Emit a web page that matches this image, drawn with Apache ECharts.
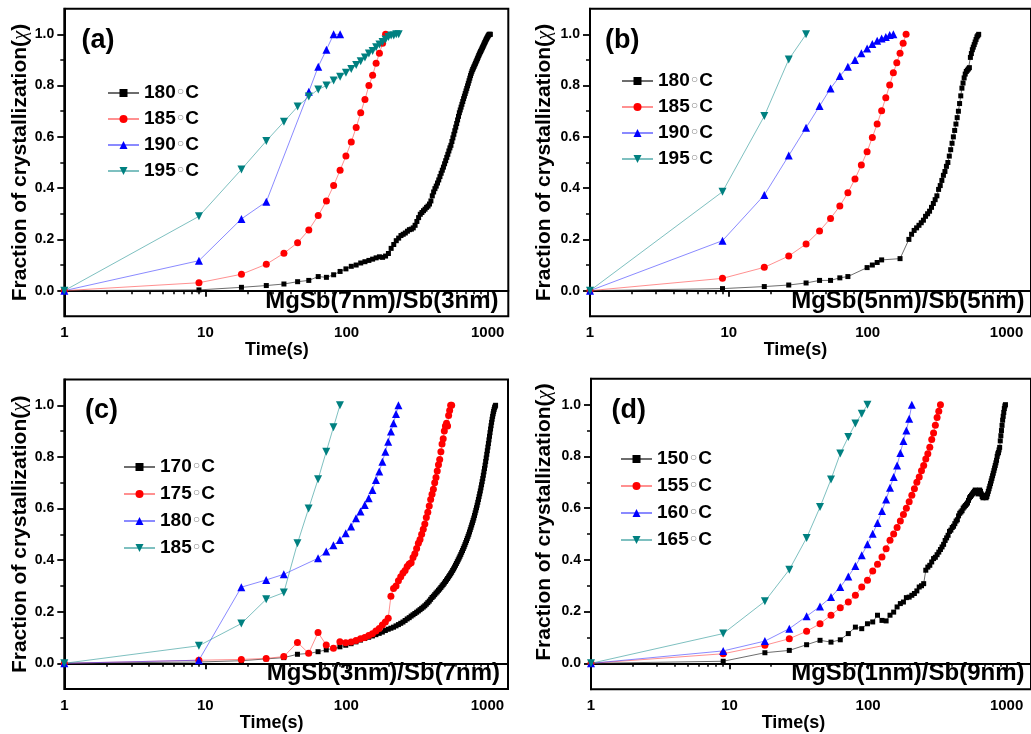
<!DOCTYPE html>
<html>
<head>
<meta charset="utf-8">
<script src="https://cdn.jsdelivr.net/npm/echarts@6/dist/echarts.min.js"></script>
<style>
  html, body { margin: 0; padding: 0; background: #fff; }
  #chart { width: 1031px; height: 734px; }
</style>
</head>
<body>
<div id="chart"></div>
<script>
// Isothermal crystallization of MgSb/Sb multilayers: fraction crystallized vs. annealing time.
// Readings were taken every 9 s; every curve starts at t = 1 s with x = 0.
const SAMPLE_STEP = 9;

// ---------- (a) MgSb(7nm)/Sb(3nm) ----------
const A_180 = [0,
  0.003,0.013,0.020,0.026,0.035,0.040,0.055,0.052,0.062,0.075,
  0.085,0.095,0.100,0.108,0.113,0.118,0.123,0.128,0.132,0.130,
  0.135,0.145,0.165,0.180,0.195,0.205,0.215,0.220,0.225,0.232,
  0.238,0.240,0.245,0.255,0.270,0.285,0.298,0.305,0.312,0.318,
  0.325,0.330,0.338,0.350,0.370,0.385,0.398,0.408,0.420,0.432,
  0.445,0.458,0.470,0.482,0.495,0.507,0.520,0.532,0.545,0.557,
  0.567,0.582,0.596,0.610,0.624,0.638,0.652,0.666,0.680,0.694,
  0.705,0.716,0.727,0.738,0.749,0.759,0.769,0.779,0.789,0.799,
  0.809,0.819,0.829,0.839,0.848,0.856,0.863,0.869,0.875,0.881,
  0.887,0.893,0.899,0.905,0.911,0.917,0.923,0.928,0.933,0.938,
  0.943,0.948,0.953,0.958,0.963,0.968,0.973,0.978,0.982,0.986,
  0.990,0.994,0.997,1.000,1.000,1.000];
const A_185 = [0,
  0.031,0.064,0.103,0.146,0.187,0.237,0.293,0.350,0.410,0.470,
  0.525,0.580,0.637,0.694,0.746,0.800,0.840,0.887,0.926,0.965,
  1.000];
const A_190_TIMES = [1, 9, 18, 27, 54, 63, 72, 81, 90];
const A_190 = [0, 0.117, 0.280, 0.347, 0.776, 0.874, 0.940, 1.000, 1.000];
const A_195 = [0,
  0.290,0.473,0.584,0.659,0.718,0.757,0.785,0.800,0.820,0.835,
  0.850,0.865,0.880,0.895,0.910,0.925,0.935,0.950,0.960,0.970,
  0.980,0.990,0.995,0.995,1.000,1.000];

// ---------- (b) MgSb(5nm)/Sb(5nm) ----------
const B_180_TIMES_EARLY = [1, 9, 18, 27, 36, 45, 54, 63, 72, 99, 108, 117, 126, 171];
const B_180_EARLY = [0, 0.008, 0.016, 0.022, 0.030, 0.040, 0.040, 0.050, 0.055, 0.090, 0.100, 0.110, 0.120, 0.125];
const B_180_LATE_START = 198;
const B_180_LATE = [
  0.200,0.220,0.235,0.245,0.255,0.265,0.275,0.290,0.300,0.310,
  0.325,0.340,0.355,0.370,0.395,0.410,0.430,0.450,0.465,0.485,
  0.500,0.525,0.550,0.575,0.600,0.625,0.650,0.675,0.700,0.730,
  0.760,0.790,0.810,0.830,0.845,0.855,0.860,0.865,0.870,0.910,
  0.925,0.940,0.950,0.960,0.970,0.980,0.990,0.995,1.000];
const B_185 = [0,
  0.048,0.091,0.135,0.182,0.233,0.282,0.330,0.382,0.436,0.490,
  0.542,0.598,0.650,0.702,0.753,0.802,0.850,0.889,0.926,0.965,
  1.000];
const B_190 = [0,
  0.195,0.373,0.527,0.636,0.720,0.789,0.837,0.874,0.900,0.926,
  0.945,0.962,0.975,0.984,0.990,0.997,1.000];
const B_195 = [0, 0.386, 0.681, 0.902, 1.000];

// ---------- (c) MgSb(3nm)/Sb(7nm) ----------
const C_170 = [0,
  0.005,0.010,0.017,0.022,0.035,0.038,0.045,0.052,0.058,0.064,
  0.070,0.076,0.083,0.090,0.096,0.101,0.106,0.111,0.116,0.121,
  0.127,0.132,0.136,0.140,0.145,0.150,0.155,0.160,0.166,0.172,
  0.177,0.183,0.188,0.193,0.198,0.203,0.208,0.213,0.218,0.223,
  0.229,0.235,0.241,0.248,0.255,0.260,0.266,0.272,0.277,0.283,
  0.288,0.294,0.300,0.305,0.311,0.317,0.323,0.329,0.335,0.341,
  0.347,0.353,0.360,0.366,0.373,0.380,0.387,0.394,0.401,0.408,
  0.415,0.422,0.430,0.437,0.445,0.452,0.460,0.468,0.476,0.484,
  0.492,0.500,0.509,0.518,0.527,0.536,0.545,0.554,0.563,0.573,
  0.583,0.593,0.603,0.613,0.624,0.635,0.646,0.657,0.668,0.680,
  0.692,0.704,0.716,0.729,0.742,0.755,0.768,0.782,0.796,0.810,
  0.824,0.838,0.852,0.866,0.880,0.894,0.908,0.921,0.934,0.946,
  0.957,0.967,0.976,0.984,0.991,0.996,1.000];
const C_175 = [0,
  0.012,0.015,0.019,0.026,0.081,0.039,0.119,0.071,0.058,0.084,
  0.080,0.083,0.088,0.095,0.100,0.108,0.115,0.125,0.135,0.148,
  0.160,0.175,0.260,0.290,0.300,0.320,0.335,0.350,0.360,0.375,
  0.385,0.390,0.410,0.425,0.445,0.465,0.480,0.500,0.520,0.540,
  0.565,0.585,0.610,0.635,0.655,0.675,0.700,0.720,0.745,0.770,
  0.790,0.820,0.850,0.870,0.900,0.920,0.930,0.920,0.960,0.980,
  1.000,1.000];
const C_180_TIMES_EARLY = [1, 9, 18, 27, 36];
const C_180_EARLY = [0, 0.012, 0.295, 0.323, 0.345];
const C_180_LATE_START = 63;
const C_180_LATE = [
  0.407,0.433,0.458,0.478,0.504,0.530,0.562,0.588,0.614,0.640,
  0.672,0.710,0.743,0.781,0.820,0.859,0.898,0.930,0.966,1.000];
const C_185 = [0, 0.068, 0.154, 0.248, 0.274, 0.465, 0.600, 0.713, 0.820, 0.915, 1.000];

// ---------- (d) MgSb(1nm)/Sb(9nm) ----------
const D_150 = [0,
  0.008,0.041,0.050,0.072,0.089,0.082,0.091,0.115,0.140,0.134,
  0.153,0.160,0.186,0.166,0.164,0.186,0.198,0.218,0.231,0.237,
  0.254,0.256,0.263,0.270,0.280,0.295,0.300,0.308,0.360,0.372,
  0.379,0.392,0.405,0.410,0.420,0.430,0.440,0.450,0.460,0.475,
  0.485,0.495,0.510,0.515,0.525,0.530,0.540,0.550,0.555,0.570,
  0.580,0.585,0.590,0.600,0.605,0.610,0.615,0.620,0.630,0.640,
  0.645,0.650,0.655,0.660,0.665,0.670,0.665,0.660,0.655,0.660,
  0.670,0.665,0.655,0.645,0.640,0.645,0.650,0.645,0.640,0.645,
  0.655,0.665,0.675,0.685,0.695,0.705,0.715,0.725,0.735,0.745,
  0.755,0.765,0.775,0.785,0.800,0.810,0.815,0.825,0.835,0.860,
  0.880,0.900,0.920,0.940,0.955,0.970,0.985,0.995,1.000];
const D_155 = [0,
  0.037,0.070,0.095,0.124,0.153,0.186,0.215,0.237,0.263,0.295,
  0.321,0.357,0.383,0.411,0.443,0.476,0.500,0.525,0.550,0.575,
  0.600,0.625,0.650,0.675,0.700,0.720,0.745,0.765,0.790,0.810,
  0.835,0.865,0.890,0.920,0.950,0.975,1.000];
const D_160 = [0,
  0.048,0.086,0.134,0.182,0.220,0.256,0.295,0.336,0.376,0.418,
  0.460,0.501,0.543,0.589,0.633,0.679,0.720,0.765,0.813,0.860,
  0.900,0.946,1.000];
const D_165 = [0, 0.115, 0.240, 0.362, 0.485, 0.604, 0.711, 0.811, 0.875, 0.927, 0.965, 1.000];

// Axis tick values
const X_MAJOR = [1, 10, 100, 1000];
const X_MINOR = [2, 3, 4, 5, 6, 7, 8, 9, 20, 30, 40, 50, 60, 70, 80, 90, 200, 300, 400, 500, 600, 700, 800, 900];
const Y_MAJOR = [0, 0.2, 0.4, 0.6, 0.8, 1.0];
const Y_MINOR = [0.1, 0.3, 0.5, 0.7, 0.9];

// ---------- helpers ----------
// times for a curve that starts at 1 s and then follows the 9 s sampling
function sampledTimes(values) {
  return values.map((_, i) => (i === 0 ? 1 : i * SAMPLE_STEP));
}
function stepTimes(start, values) {
  return values.map((_, i) => start + i * SAMPLE_STEP);
}
function pairs(times, values) {
  return values.map((v, i) => [times[i], v]);
}

const STYLES = {
  black: { color: '#000000', line: 'rgba(60,60,60,0.75)', symbol: 'rect', size: 5, rotate: 0 },
  red:   { color: '#ff0000', line: 'rgba(255,70,70,0.6)', symbol: 'circle', size: 7, rotate: 0 },
  blue:  { color: '#0000ff', line: 'rgba(60,60,255,0.6)', symbol: 'triangle', size: 8, rotate: 0 },
  teal:  { color: '#008080', line: 'rgba(40,150,150,0.6)', symbol: 'triangle', size: 8, rotate: 180 }
};

const PANELS = [
  {
    tag: '(a)', sample: 'MgSb(7nm)/Sb(3nm)', xMax: 1400,
    grid: { left: 64.3, top: 8.7, width: 444, height: 307.6 },
    tagPos: { left: 81.5, top: 27 }, samplePos: { right: 532.5, top: 289.5 },
    legendPos: { left: 107, top: 83 }, legendGap: 6, nameGap: 33, timePad: 19, yNamePad: 0,
    curves: [
      { temp: '180', style: 'black', data: pairs(sampledTimes(A_180), A_180) },
      { temp: '185', style: 'red',   data: pairs(sampledTimes(A_185), A_185) },
      { temp: '190', style: 'blue',  data: pairs(A_190_TIMES, A_190) },
      { temp: '195', style: 'teal',  data: pairs(sampledTimes(A_195), A_195) }
    ]
  },
  {
    tag: '(b)', sample: 'MgSb(5nm)/Sb(5nm)', xMax: 1500,
    grid: { left: 590, top: 8.7, width: 443, height: 307.6 },
    tagPos: { left: 605, top: 27 }, samplePos: { right: 6.5, top: 289.5 },
    legendPos: { left: 621, top: 71 }, legendGap: 6, nameGap: 35, timePad: 30, yNamePad: 0,
    curves: [
      { temp: '180', style: 'black', data: pairs(B_180_TIMES_EARLY, B_180_EARLY)
          .concat(pairs(stepTimes(B_180_LATE_START, B_180_LATE), B_180_LATE)) },
      { temp: '185', style: 'red',   data: pairs(sampledTimes(B_185), B_185) },
      { temp: '190', style: 'blue',  data: pairs(sampledTimes(B_190), B_190) },
      { temp: '195', style: 'teal',  data: pairs(sampledTimes(B_195), B_195) }
    ]
  },
  {
    tag: '(c)', sample: 'MgSb(3nm)/Sb(7nm)', xMax: 1400,
    grid: { left: 64.3, top: 379.5, width: 443.7, height: 309.6 },
    tagPos: { left: 85, top: 397 }, samplePos: { right: 531, top: 661.5 },
    legendPos: { left: 123, top: 457 }, legendGap: 7, nameGap: 34, timePad: 29, yNamePad: 0,
    curves: [
      { temp: '170', style: 'black', data: pairs(sampledTimes(C_170), C_170) },
      { temp: '175', style: 'red',   data: pairs(sampledTimes(C_175), C_175) },
      { temp: '180', style: 'blue',  data: pairs(C_180_TIMES_EARLY, C_180_EARLY)
          .concat(pairs(stepTimes(C_180_LATE_START, C_180_LATE), C_180_LATE)) },
      { temp: '185', style: 'teal',  data: pairs(sampledTimes(C_185), C_185) }
    ]
  },
  {
    tag: '(d)', sample: 'MgSb(1nm)/Sb(9nm)', xMax: 1500,
    grid: { left: 591, top: 378.8, width: 442, height: 310.4 },
    tagPos: { left: 611.5, top: 397 }, samplePos: { right: 6.5, top: 661.5 },
    legendPos: { left: 620, top: 449 }, legendGap: 7, nameGap: 36, timePad: 35, yNamePad: 24,
    curves: [
      { temp: '150', style: 'black', data: pairs(sampledTimes(D_150), D_150) },
      { temp: '155', style: 'red',   data: pairs(sampledTimes(D_155), D_155) },
      { temp: '160', style: 'blue',  data: pairs(sampledTimes(D_160), D_160) },
      { temp: '165', style: 'teal',  data: pairs(sampledTimes(D_165), D_165) }
    ]
  }
];

const FONT = '"Liberation Sans", Arial, Helvetica, sans-serif';

const grids = [], xAxes = [], yAxes = [], series = [], legends = [], titles = [];

PANELS.forEach((p, i) => {
  grids.push(Object.assign({
    show: true, borderColor: '#000', borderWidth: 2, backgroundColor: 'transparent', containLabel: false
  }, p.grid));

  titles.push({
    text: p.tag, left: p.tagPos.left, top: p.tagPos.top, padding: 0,
    textStyle: { fontFamily: FONT, fontSize: 27, fontWeight: 'bold', color: '#000' }
  });
  titles.push({
    text: p.sample, right: p.samplePos.right, top: p.samplePos.top, padding: 0,
    textStyle: { fontFamily: FONT, fontSize: 24, fontWeight: 'bold', color: '#000' }
  });

  // main x axis: decades with labels
  xAxes.push({
    type: 'log', logBase: 10, gridIndex: i, min: 1, max: p.xMax,
    name: 'Time(s)', nameLocation: 'middle', nameGap: 23,
    nameTextStyle: { fontFamily: FONT, fontSize: 18, fontWeight: 'bold', color: '#000', padding: [0, p.timePad, 0, 0] },
    axisLine: { show: true, lineStyle: { color: '#000', width: 2 } },
    axisTick: { show: true, inside: false, length: 6, customValues: X_MAJOR, lineStyle: { color: '#000', width: 1.8 } },
    axisLabel: {
      show: true, margin: 9, customValues: X_MAJOR,
      fontFamily: FONT, fontSize: 15, fontWeight: 'bold', color: '#000',
      formatter: v => String(Math.round(v))
    },
    splitLine: { show: false }, minorTick: { show: false }
  });

  // main y axis
  yAxes.push({
    type: 'value', gridIndex: i, min: -0.1, max: 1.1,
    name: '{t|Fraction of crystallization(}{g|χ}{t|)}',
    nameLocation: 'middle', nameGap: p.nameGap, nameRotate: 90,
    nameTextStyle: {
      padding: [0, 0, 0, p.yNamePad],
      rich: {
        t: { fontFamily: FONT, fontSize: 21, fontWeight: 'bold', color: '#000' },
        g: { fontFamily: '"Liberation Serif", "DejaVu Serif", serif', fontSize: 21, fontStyle: 'italic', color: '#000' }
      }
    },
    axisLine: { show: true, lineStyle: { color: '#000', width: 2 } },
    axisTick: { show: true, inside: false, length: 7, customValues: Y_MAJOR, lineStyle: { color: '#000', width: 1.8 } },
    axisLabel: {
      show: true, margin: 10, customValues: Y_MAJOR,
      fontFamily: FONT, fontSize: 14, fontWeight: 'bold', color: '#000',
      formatter: v => v.toFixed(1)
    },
    splitLine: { show: false }
  });

  legends.push({
    orient: 'vertical', left: p.legendPos.left, top: p.legendPos.top,
    padding: 0, itemGap: p.legendGap, itemWidth: 31, itemHeight: 10,
    selectedMode: false,
    data: p.curves.map(c => p.tag + c.temp),
    formatter: name => '{n|' + name.slice(3) + '}{d|◦}{n|C}',
    textStyle: {
      fontFamily: FONT, fontSize: 19, fontWeight: 'bold', color: '#000', lineHeight: 20,
      rich: {
        n: { fontFamily: FONT, fontSize: 19, fontWeight: 'bold', color: '#000', lineHeight: 20 },
        d: { fontFamily: '"DejaVu Sans", sans-serif', fontSize: 15, fontWeight: 'bold', color: '#8c8c8c', lineHeight: 20, verticalAlign: 'middle' }
      }
    }
  });

  p.curves.forEach(c => {
    const s = STYLES[c.style];
    series.push({
      type: 'line', name: p.tag + c.temp, xAxisIndex: i, yAxisIndex: i,
      data: c.data,
      symbol: s.symbol, symbolSize: s.size, symbolRotate: s.rotate,
      showSymbol: true, showAllSymbol: true,
      itemStyle: { color: s.color },
      lineStyle: { color: s.line, width: 1 },
      emphasis: { disabled: true },
      animation: false, z: 3
    });
  });
});

// minor ticks drawn by companion axes sharing each grid
PANELS.forEach((p, i) => {
  xAxes.push({
    type: 'log', logBase: 10, gridIndex: i, min: 1, max: p.xMax, position: 'bottom', offset: 0,
    axisLine: { show: false },
    axisTick: { show: true, inside: false, length: 3.5, customValues: X_MINOR, lineStyle: { color: '#000', width: 1.5 } },
    axisLabel: { show: false }, splitLine: { show: false }
  });
  yAxes.push({
    type: 'value', gridIndex: i, min: -0.1, max: 1.1, position: 'left', offset: 0,
    axisLine: { show: false },
    axisTick: { show: true, inside: false, length: 4, customValues: Y_MINOR, lineStyle: { color: '#000', width: 1.5 } },
    axisLabel: { show: false }, splitLine: { show: false }
  });
});

const chart = echarts.init(document.getElementById('chart'), null, { renderer: 'canvas' });
chart.setOption({
  backgroundColor: '#ffffff',
  animation: false,
  title: titles,
  legend: legends,
  grid: grids,
  xAxis: xAxes,
  yAxis: yAxes,
  series: series
});
</script>
</body>
</html>
